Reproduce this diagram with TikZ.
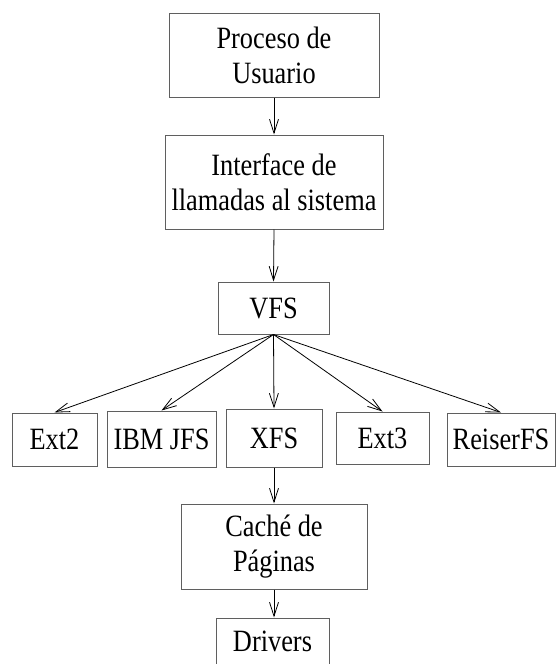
\documentclass[tikz,border=0pt]{standalone}
\usepackage{fontspec}
\setmainfont{Liberation Serif}[FakeStretch=0.85]
\usetikzlibrary{arrows.meta}
\definecolor{boxgray}{RGB}{95,95,95}
\begin{document}
\begin{tikzpicture}[x=1pt,y=-1pt,
  box/.style={draw=boxgray, line width=1pt, inner sep=0pt, align=center,
    font=\fontsize{31}{35}\selectfont},
  arr/.style={-{Straight Barb[length=14pt,width=9pt]}, line width=0.8pt}]
\useasboundingbox (0,0) rectangle (557,664);
\node[box, minimum width=210pt, minimum height=84pt] (p) at (274,55) {Proceso de\\Usuario};
\node[box, minimum width=218pt, minimum height=94pt] (i) at (274,182) {Interface de\\llamadas al sistema};
\node[box, minimum width=111pt, minimum height=52pt] (v) at (273.5,308) {VFS};
\node[box, minimum width=85pt, minimum height=53pt] (e2) at (54.5,439.5) {Ext2};
\node[box, minimum width=109pt, minimum height=56pt] (ibm) at (161.5,439) {IBM JFS};
\node[box, minimum width=96pt, minimum height=58pt] (x) at (274,438) {XFS};
\node[box, minimum width=93pt, minimum height=52pt] (e3) at (382.5,438) {Ext3};
\node[box, minimum width=108pt, minimum height=53pt] (r) at (501,439.5) {ReiserFS};
\node[box, minimum width=186pt, minimum height=85pt] (c) at (274,546.5) {Caché de\\Páginas};
\node[box, minimum width=113pt, minimum height=46pt] (d) at (272.5,641) {Drivers};
\draw[arr] (p.south) -- (i.north);
\draw[arr] (i.south) -- (v.north);
\draw[arr] (v.south) -- (e2.north);
\draw[arr] (v.south) -- (ibm.north);
\draw[arr] (v.south) -- (x.north);
\draw[arr] (v.south) -- (e3.north);
\draw[arr] (v.south) -- (r.north);
\draw[arr] (x.south) -- (c.north);
\draw[arr] (c.south) -- (c.south |- d.north);
\end{tikzpicture}
\end{document}
